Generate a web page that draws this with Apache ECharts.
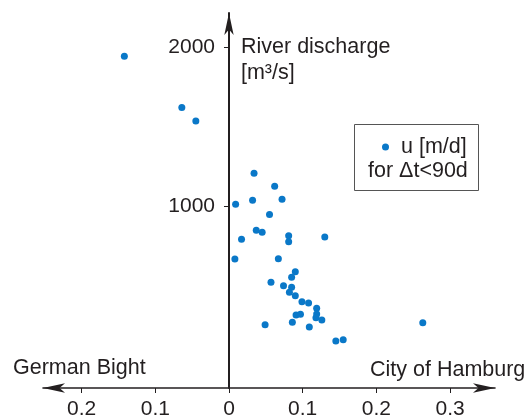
<!DOCTYPE html>
<html>
<head>
<meta charset="utf-8">
<script src="https://cdn.jsdelivr.net/npm/echarts@6/dist/echarts.min.js"></script>
<style>html,body{margin:0;padding:0;background:#fff;}#c{width:532px;height:420px;}</style>
</head>
<body>
<div id="c"></div>
<script>
// u [m/d] (negative = towards German Bight, positive = towards City of Hamburg)
var uValues = [-0.142, -0.064, -0.045, 0.034, 0.062, 0.009, 0.032, 0.072, 0.055, 0.037,
  0.045, 0.017, 0.081, 0.081, 0.130, 0.008, 0.067, 0.090, 0.085, 0.057,
  0.074, 0.085, 0.082, 0.090, 0.099, 0.108, 0.119, 0.119, 0.118, 0.126,
  0.091, 0.097, 0.086, 0.109, 0.049, 0.145, 0.155, 0.263];
// River discharge [m3/s]
var discharge = [1946, 1623, 1539, 1210, 1128, 1015, 1040, 1047, 951, 852,
  839, 795, 817, 779, 809, 671, 673, 591, 557, 525,
  503, 493, 462, 440, 403, 394, 361, 325, 302, 287,
  319, 324, 274, 243, 257, 155, 164, 270];
var xTicks = [-0.2, -0.1, 0, 0.1, 0.2, 0.3];
var yTicks = [1000, 2000];

var FONT = 'Liberation Sans, Arial, sans-serif';
var INK = '#231f20';
var BLUE = '#0a78c8';
var WORD = 21.5, NUM = 21;

var X_MIN = -0.2524, X_MAX = 0.361;
var GRID_LEFT = 43, GRID_RIGHT = 37, W = 532;
var gridW = W - GRID_LEFT - GRID_RIGHT;
// place the vertical axis where u = 0
var yAxisOffset = -((0 - X_MIN) / (X_MAX - X_MIN)) * gridW;

var points = uValues.map(function (u, i) { return [u, discharge[i]]; });

var chart = echarts.init(document.getElementById('c'), null, { renderer: 'canvas' });
chart.setOption({
  animation: false,
  backgroundColor: '#ffffff',
  grid: { left: GRID_LEFT, right: GRID_RIGHT, top: 13, bottom: 32, containLabel: false, outerBoundsMode: 'none' },
  xAxis: {
    type: 'value',
    min: X_MIN, max: X_MAX,
    axisLine: { onZero: false, lineStyle: { color: INK, width: 1.6 },
      symbol: ['arrow', 'arrow'], symbolSize: [7, 22] },
    axisTick: { show: true, length: 5, lineStyle: { color: INK, width: 1 }, customValues: xTicks },
    axisLabel: { customValues: xTicks, margin: 11, color: INK, fontSize: NUM, fontFamily: FONT,
      formatter: function (v) { return v === 0 ? '0' : Math.abs(v).toFixed(1); } },
    splitLine: { show: false }
  },
  yAxis: {
    type: 'value',
    position: 'left',
    offset: yAxisOffset,
    min: -140, max: 2218,
    name: 'River discharge\n[m³/s]',
    nameLocation: 'end',
    nameGap: -21,
    nameTextStyle: { align: 'left', verticalAlign: 'top', padding: [0, 0, 0, 12],
      color: INK, fontSize: WORD, fontFamily: FONT, lineHeight: 26 },
    axisLine: { onZero: false, lineStyle: { color: INK, width: 2 },
      symbol: ['none', 'arrow'], symbolSize: [7, 22] },
    axisTick: { show: true, length: 5, lineStyle: { color: INK, width: 1 }, customValues: yTicks },
    axisLabel: { customValues: yTicks, margin: 14, color: INK, fontSize: NUM, fontFamily: FONT,
      formatter: function (v) { return String(v); } },
    splitLine: { show: false }
  },
  legend: {
    show: true,
    data: [{ name: 'u [m/d]', icon: 'circle' }],
    left: 377, top: 131,
    itemWidth: 7, itemHeight: 7,
    textStyle: { color: INK, fontSize: WORD, fontFamily: FONT, padding: [0, 0, 0, 7] },
    selectedMode: false
  },
  graphic: [
    { type: 'rect', shape: { x: 354.5, y: 124.5, width: 124, height: 66 },
      style: { fill: 'none', stroke: '#555', lineWidth: 1 }, z: 10 },
    { type: 'text', left: 368, top: 160,
      style: { text: 'for Δt<90d', fill: INK, font: WORD + 'px ' + FONT }, z: 10 },
    { type: 'text', left: 13, top: 357,
      style: { text: 'German Bight', fill: INK, font: WORD + 'px ' + FONT }, z: 10 },
    { type: 'text', left: 370, top: 359,
      style: { text: 'City of Hamburg', fill: INK, font: WORD + 'px ' + FONT }, z: 10 }
  ],
  series: [{
    name: 'u [m/d]',
    type: 'scatter',
    data: points,
    symbol: 'circle',
    symbolSize: 7,
    itemStyle: { color: BLUE, opacity: 1 }
  }]
});
</script>
</body>
</html>
